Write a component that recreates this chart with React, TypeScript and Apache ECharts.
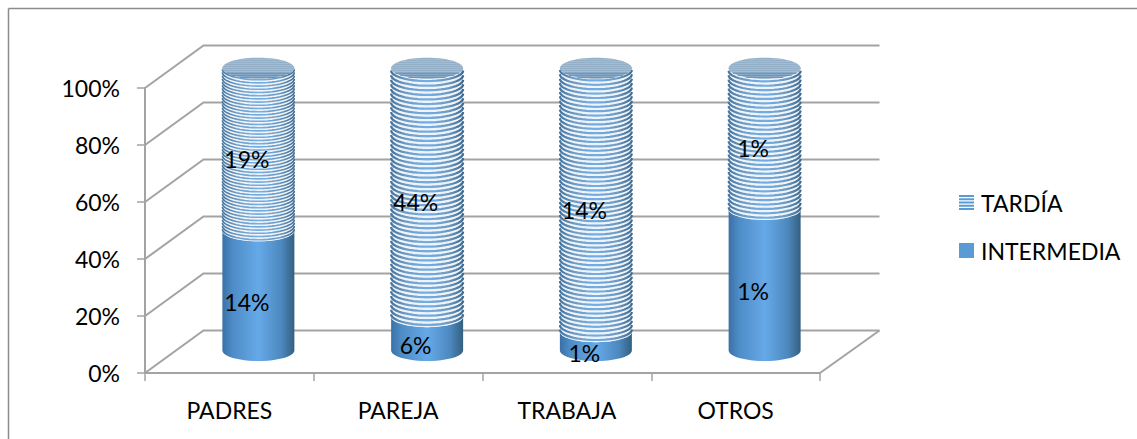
import React, { useEffect, useRef } from "react";
import * as echarts from "echarts";

const categories = ["PADRES", "PAREJA", "TRABAJA", "OTROS"];
const intermedia = [14, 6, 1, 1];
const tardia = [19, 44, 14, 1];
const yTicks = [0, 20, 40, 60, 80, 100];
const stripePeriods = [3.2, 4.6, 4.4, 4.4];

const FONT = "Lato";
const WALL = "#a3a3a3";
const DX = 58.5;
const DY = -42.5;
const RX = 36;
const RY = 10.5;

const stripeIcon =
  "path://M0 0H15V2H0Z M0 3.2H15V5.2H0Z M0 6.4H15V8.4H0Z M0 9.6H15V11.6H0Z M0 12.8H15V14.8H0Z";

const sideGrad = {
  type: "linear", x: 0, y: 0, x2: 1, y2: 0,
  colorStops: [
    { offset: 0, color: "#3a70a6" },
    { offset: 0.14, color: "#4d8cc6" },
    { offset: 0.5, color: "#66a9e8" },
    { offset: 0.82, color: "#4d88bf" },
    { offset: 1, color: "#33607f" },
  ],
};
const stripeGrad = {
  type: "linear", x: 0, y: 0, x2: 1, y2: 0,
  colorStops: [
    { offset: 0, color: "#44749f" },
    { offset: 0.2, color: "#6f9cc4" },
    { offset: 0.5, color: "#74aee4" },
    { offset: 0.8, color: "#6c98bf" },
    { offset: 1, color: "#3f6a90" },
  ],
};

function arc(cx: number, y: number, a = 0, b = Math.PI) {
  const pts: number[][] = [];
  const n = 24;
  for (let i = 0; i <= n; i++) {
    const t = a + ((b - a) * i) / n;
    pts.push([cx + RX * Math.cos(t), y + RY * Math.sin(t)]);
  }
  return pts;
}

function geom(api: any, i: number, v: number) {
  const base = api.coord([i, 0]);
  const p = api.coord([i, v]);
  return { cx: p[0] + 29, y: base[1] - 22.5 - (base[1] - p[1]) * 0.99 };
}

function segLabel(api: any, i: number, start: number, end: number, raw: number) {
  const m = api.coord([i, (start + end) / 2]);
  return {
    type: "text",
    style: {
      text: raw + "%",
      x: m[0] + 17.5,
      y: m[1] - 11,
      textAlign: "center",
      textVerticalAlign: "middle",
      fontFamily: FONT,
      fontSize: 23,
      fill: "#000",
    },
  };
}

function renderWall(params: any, api: any) {
  const v = api.value(1);
  const cs = params.coordSys;
  const y = api.coord([0, v])[1];
  const x0 = cs.x;
  const x1 = cs.x + cs.width;
  const children: any[] = [
    {
      type: "polyline",
      shape: { points: [[x0, y], [x0 + DX, y + DY], [x1 + DX + 1, y + DY]] },
      style: { fill: "none", stroke: WALL, lineWidth: 2 },
    },
  ];
  if (v === 0) {
    children.push({
      type: "line",
      shape: { x1, y1: y, x2: x1 + DX + 1, y2: y + DY },
      style: { stroke: WALL, lineWidth: 2 },
    });
  }
  return { type: "group", children };
}

function renderIntermedia(_params: any, api: any) {
  const i = api.value(0);
  const start = api.value(1);
  const end = api.value(2);
  const b = geom(api, i, start);
  const t = geom(api, i, end);
  const points = [...arc(t.cx, t.y), ...arc(b.cx, b.y).reverse()];
  return {
    type: "group",
    children: [
      { type: "polygon", shape: { points }, style: { fill: sideGrad, stroke: "none" } },
      segLabel(api, i, start, end, api.value(3)),
    ],
  };
}

function renderTardia(_params: any, api: any) {
  const i = api.value(0);
  const start = api.value(1);
  const end = api.value(2);
  const b = geom(api, i, start);
  const t = geom(api, i, end);
  const points = [...arc(t.cx, t.y), ...arc(b.cx, b.y).reverse()];
  const children: any[] = [
    { type: "polygon", shape: { points }, style: { fill: "#eef4f9", stroke: "none" } },
  ];
  const period = stripePeriods[i];
  for (let y = b.y - period * 0.5; y > t.y + 0.5; y -= period) {
    children.push({
      type: "polyline",
      shape: { points: arc(t.cx, y) },
      style: { fill: "none", stroke: stripeGrad, lineWidth: period * 0.5 },
    });
  }
  // textured lid of the cylinder
  children.push({
    type: "ellipse",
    shape: { cx: t.cx, cy: t.y, rx: RX, ry: RY },
    style: { fill: "#8fadc8", stroke: "none" },
  });
  for (let k = -RY + 1.5; k < RY; k += 2) {
    const w = RX * Math.sqrt(1 - (k * k) / (RY * RY));
    children.push({
      type: "line",
      shape: { x1: t.cx - w, y1: t.y + k, x2: t.cx + w, y2: t.y + k },
      style: { stroke: k > 3 ? "#5f94c6" : "#aebccb", lineWidth: 1 },
    });
  }
  children.push(segLabel(api, i, start, end, api.value(3)));
  return { type: "group", children };
}

export default function App() {
  const ref = useRef<HTMLDivElement>(null);
  useEffect(() => {
    if (!ref.current) return;
    const chart = echarts.init(ref.current, undefined, { renderer: "svg" });
    const totals = categories.map((_, i) => intermedia[i] + tardia[i]);
    const interData = categories.map((_, i) => [i, 0, (intermedia[i] / totals[i]) * 100, intermedia[i]]);
    const tardData = categories.map((_, i) => [i, (intermedia[i] / totals[i]) * 100, 100, tardia[i]]);
    chart.setOption({
      animation: false,
      backgroundColor: "#fff",
      grid: { left: 145, right: 317, top: 88, bottom: 66 },
      legend: {
        orient: "vertical",
        left: 954,
        top: 186,
        itemWidth: 15,
        itemHeight: 15,
        itemGap: 25,
        textStyle: { fontFamily: FONT, fontSize: 23, color: "#000", padding: [0, 0, 0, 2] },
        selectedMode: false,
        data: [
          { name: "TARDÍA", icon: stripeIcon },
          { name: "INTERMEDIA", icon: "rect" },
        ],
      },
      xAxis: {
        type: "category",
        data: categories,
        axisLine: { lineStyle: { color: WALL, width: 2 } },
        axisTick: { show: true, length: 8, lineStyle: { color: WALL, width: 1.5 } },
        axisLabel: { margin: 25, fontFamily: FONT, fontSize: 23, color: "#000" },
      },
      yAxis: {
        type: "value",
        min: 0,
        max: 100,
        interval: 20,
        axisLine: { show: true, lineStyle: { color: WALL, width: 2 } },
        axisTick: { show: true, length: 8, lineStyle: { color: WALL, width: 1.5 } },
        axisLabel: {
          margin: 25,
          fontFamily: FONT,
          fontSize: 23,
          color: "#000",
          formatter: "{value}%",
          padding: [3, 0, 0, 0],
        },
        splitLine: { show: false },
      },
      graphic: [
        { type: "line", shape: { x1: 8.5, y1: 8.5, x2: 1137, y2: 8.5 }, style: { stroke: "#8c8c8c", lineWidth: 1.5 } },
        { type: "line", shape: { x1: 8.5, y1: 8.5, x2: 8.5, y2: 439 }, style: { stroke: "#8c8c8c", lineWidth: 1.5 } },
      ],
      series: [
        {
          type: "custom",
          name: "walls",
          z: 1,
          renderItem: renderWall,
          data: yTicks.map((v) => [0, v]),
          encode: { x: 0, y: 1 },
          silent: true,
        },
        {
          type: "custom",
          name: "INTERMEDIA",
          z: 3,
          itemStyle: { color: "#5b9bd5" },
          renderItem: renderIntermedia,
          data: interData,
          encode: { x: 0, y: [1, 2] },
          silent: true,
        },
        {
          type: "custom",
          name: "TARDÍA",
          z: 4,
          itemStyle: { color: "#5b9bd5" },
          renderItem: renderTardia,
          data: tardData,
          encode: { x: 0, y: [1, 2] },
          silent: true,
        },
      ],
    });
    return () => chart.dispose();
  }, []);
  return <div ref={ref} style={{ position: "fixed", left: 0, top: 0, width: 1137, height: 439 }} />;
}
